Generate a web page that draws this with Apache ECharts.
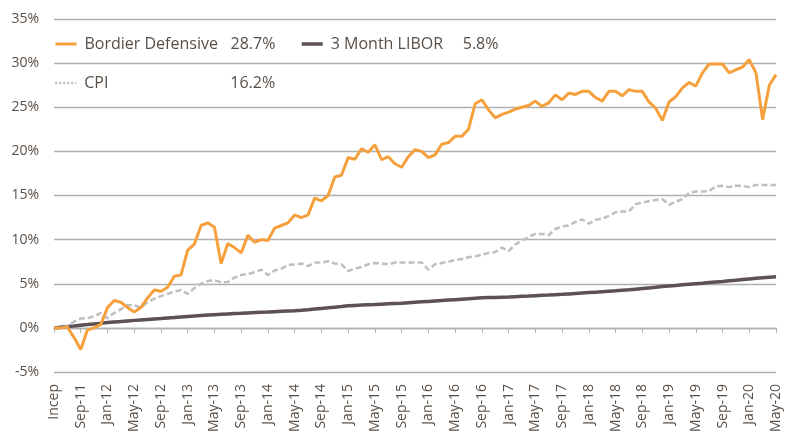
<!DOCTYPE html>
<html>
<head>
<meta charset="utf-8">
<script src="https://cdn.jsdelivr.net/npm/echarts@6/dist/echarts.min.js"></script>
<style>
  html, body { margin: 0; padding: 0; background: #fff; }
  #chart { width: 790px; height: 441px; }
</style>
</head>
<body>
<div id="chart"></div>
<script>
// monthly, May-11 (Incep) to May-20
const MONTHS = ['Jan', 'Feb', 'Mar', 'Apr', 'May', 'Jun', 'Jul', 'Aug', 'Sep', 'Oct', 'Nov', 'Dec'];
const categories = [];
for (let k = 0; k <= 108; k++) {
  const m = (4 + k) % 12;
  const y = 11 + Math.floor((4 + k) / 12);
  categories.push(k === 0 ? 'Incep' : `${MONTHS[m]}-${y}`);
}

const bordier = [
  0, 0.0, 0.1, -1.1, -2.45, -0.25, 0.0, 0.4, 2.3, 3.1,
  2.9, 2.3, 1.8, 2.3, 3.4, 4.3, 4.15, 4.6, 5.85, 6.0,
  8.8, 9.5, 11.6, 11.9, 11.4, 7.3, 9.55, 9.1, 8.5, 10.5,
  9.7, 10.0, 9.9, 11.3, 11.6, 11.9, 12.8, 12.5, 12.8, 14.7,
  14.4, 15.0, 17.1, 17.3, 19.3, 19.1, 20.3, 19.9, 20.75, 19.05,
  19.4, 18.6, 18.2, 19.4, 20.2, 20.0, 19.3, 19.6, 20.8, 21.0,
  21.7, 21.7, 22.5, 25.4, 25.85, 24.7, 23.8, 24.2, 24.45, 24.8,
  25.0, 25.2, 25.7, 25.1, 25.5, 26.4, 25.85, 26.6, 26.45, 26.8,
  26.8, 26.1, 25.7, 26.8, 26.8, 26.3, 27.0, 26.8, 26.8, 25.6,
  24.9, 23.5, 25.6, 26.2, 27.2, 27.8, 27.4, 28.9, 29.9, 29.9,
  29.9, 28.9, 29.25, 29.55, 30.4, 28.9, 23.6, 27.5, 28.7
];

const libor = [
  0.0, 0.08, 0.15, 0.22, 0.3, 0.37, 0.45, 0.52, 0.6, 0.66,
  0.72, 0.79, 0.85, 0.9, 0.95, 1.0, 1.05, 1.11, 1.17, 1.24,
  1.3, 1.35, 1.4, 1.45, 1.5, 1.54, 1.58, 1.62, 1.65, 1.69,
  1.73, 1.77, 1.8, 1.84, 1.88, 1.92, 1.95, 2.0, 2.06, 2.13,
  2.2, 2.27, 2.35, 2.42, 2.5, 2.54, 2.58, 2.62, 2.65, 2.69,
  2.73, 2.77, 2.8, 2.85, 2.9, 2.95, 3.0, 3.05, 3.1, 3.15,
  3.2, 3.25, 3.3, 3.35, 3.4, 3.43, 3.45, 3.48, 3.5, 3.54,
  3.58, 3.61, 3.65, 3.69, 3.72, 3.76, 3.8, 3.85, 3.9, 3.95,
  4.0, 4.05, 4.1, 4.15, 4.2, 4.26, 4.32, 4.39, 4.45, 4.53,
  4.6, 4.68, 4.75, 4.81, 4.88, 4.94, 5.0, 5.06, 5.13, 5.19,
  5.25, 5.33, 5.4, 5.48, 5.55, 5.62, 5.68, 5.74, 5.8
];

const cpi = [
  0, 0.0, 0.2, 0.7, 1.05, 1.1, 1.3, 1.7, 1.1, 1.7,
  2.1, 2.6, 2.55, 2.3, 2.9, 3.3, 3.6, 3.85, 4.1, 4.3,
  3.85, 4.5, 5.0, 5.3, 5.4, 5.15, 5.2, 5.7, 6.0, 6.1,
  6.3, 6.6, 6.0, 6.5, 6.7, 7.1, 7.2, 7.3, 7.0, 7.4,
  7.4, 7.55, 7.3, 7.2, 6.45, 6.7, 6.9, 7.2, 7.35, 7.3,
  7.2, 7.4, 7.4, 7.4, 7.4, 7.4, 6.6, 7.2, 7.35, 7.5,
  7.7, 7.8, 8.0, 8.1, 8.3, 8.5, 8.6, 9.1, 8.7, 9.45,
  9.9, 10.3, 10.65, 10.65, 10.5, 11.2, 11.5, 11.6, 12.0, 12.3,
  11.8, 12.25, 12.35, 12.7, 13.1, 13.2, 13.2, 14.0, 14.2, 14.35,
  14.5, 14.6, 13.95, 14.3, 14.6, 15.3, 15.45, 15.45, 15.5, 16.05,
  16.1, 15.95, 16.1, 16.1, 15.95, 16.2, 16.2, 16.2, 16.2
];

const TEXT = '#594f47';
const GRID = '#b0b0b0';
const FONT = '"Open Sans", sans-serif';

const last = arr => arr[arr.length - 1].toFixed(1) + '%';

function legendFor(name, value, left, top, nameWidth, iconStyle) {
  return {
    left, top,
    padding: 0,
    itemWidth: 21,
    itemHeight: 14,
    data: [{ name, lineStyle: iconStyle, itemStyle: { opacity: 0 } }],
    selectedMode: false,
    formatter: n => `{n|${n}}{v|${value}}`,
    textStyle: {
      color: TEXT, fontFamily: FONT, fontSize: 16,
      rich: {
        n: { width: nameWidth, color: TEXT, fontFamily: FONT, fontSize: 16, padding: [0, 0, 0, 3] },
        v: { color: TEXT, fontFamily: FONT, fontSize: 16 }
      }
    }
  };
}

const chart = echarts.init(document.getElementById('chart'));
chart.setOption({
  animation: false,
  textStyle: { fontFamily: FONT },
  legend: [
    legendFor('Bordier Defensive', last(bordier), 54, 36, 146, { color: '#f5a03c', width: 3 }),
    legendFor('3 Month LIBOR', last(libor), 300, 36, 132, { color: '#5d5151', width: 3.5 }),
    legendFor('CPI', last(cpi), 54, 75, 146, { color: '#bfbfbf', width: 2.5, type: [2, 2] })
  ],
  grid: { left: 54, right: 14, top: 19, bottom: 69, containLabel: false },
  xAxis: [
    {
      type: 'category',
      data: categories,
      boundaryGap: false,
      position: 'bottom',
      axisLine: { show: false, onZero: false },
      axisTick: { show: false },
      axisLabel: {
        interval: 3,
        rotate: 90,
        margin: 12,
        color: TEXT,
        fontFamily: FONT,
        fontSize: 14
      }
    },
    {
      type: 'category',
      data: categories,
      boundaryGap: false,
      position: 'top',
      axisLine: { show: true, onZero: true, lineStyle: { color: GRID, width: 1.3 } },
      axisTick: { show: true, inside: true, interval: 3, length: 5, lineStyle: { color: GRID, width: 1 } },
      axisLabel: { show: false }
    }
  ],
  yAxis: {
    type: 'value',
    min: -5,
    max: 35,
    interval: 5,
    axisLine: { show: false },
    axisTick: { show: false },
    splitLine: { lineStyle: { color: GRID, width: 1.3 } },
    axisLabel: {
      formatter: '{value}%',
      margin: 15,
      color: TEXT,
      fontFamily: FONT,
      fontSize: 14
    }
  },
  series: [
    {
      name: 'Bordier Defensive',
      type: 'line',
      data: bordier,
      symbol: 'none',
      z: 4,
      lineStyle: { color: '#f5a03c', width: 3 },
      itemStyle: { color: '#f5a03c' }
    },
    {
      name: '3 Month LIBOR',
      type: 'line',
      data: libor,
      symbol: 'none',
      z: 3,
      lineStyle: { color: '#5d5151', width: 3.5 },
      itemStyle: { color: '#5d5151' }
    },
    {
      name: 'CPI',
      type: 'line',
      data: cpi,
      symbol: 'none',
      z: 3,
      lineStyle: { color: '#bfbfbf', width: 2.5, type: [6, 3] },
      itemStyle: { color: '#bfbfbf' }
    }
  ]
});
</script>
</body>
</html>
